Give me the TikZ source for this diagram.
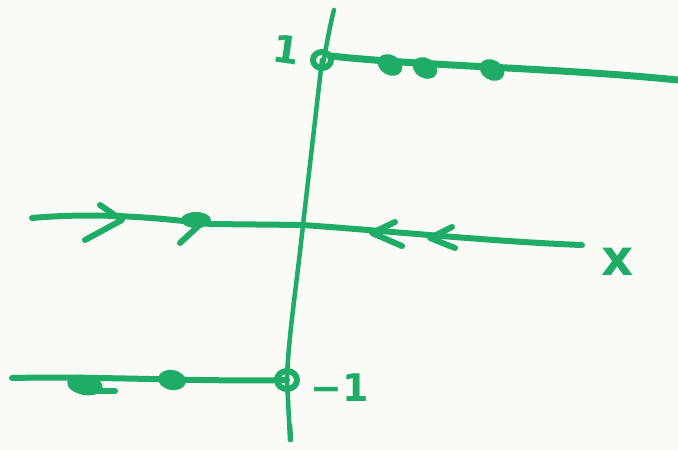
\documentclass[tikz,border=0pt]{standalone}
\usepackage{fontspec}
\setmainfont{DejaVu Sans}
\definecolor{pen}{RGB}{30,172,102}
\definecolor{paper}{RGB}{250,250,247}
\begin{document}
\begin{tikzpicture}[x=1pt,y=-1pt,
  ink/.style={draw=pen,line width=6pt,line cap=round,line join=round},
  lbl/.style={text=pen,font=\bfseries\fontsize{38}{38}\selectfont,inner sep=0pt}]
\fill[paper] (0,0) rectangle (678,451);
\useasboundingbox (0,0) rectangle (678,451);
% named points
\coordinate (vtop) at (334,10);
\coordinate (p1) at (322,60);
\coordinate (o) at (303,225);
\coordinate (m1) at (287,380);
\coordinate (vbot) at (290,440);
% vertical axis
\draw[ink,line width=4.5pt] (vtop) .. controls (326,40) and (320,90) .. (p1) -- (o) .. controls (296,290) and (288,340) .. (m1) -- (vbot);
% circles
\draw[ink] (p1) circle[x radius=9,y radius=8];
\draw[ink] (m1) circle[x radius=10,y radius=9];
% top line
\coordinate (tr) at (678,80);
\draw[ink,line width=7pt] (331,56) .. controls (420,66) and (560,68) .. (tr);
\foreach \x/\y in {390/65,425/68,492/70}
  \fill[pen,rotate around={-30:(\x,\y)}] (\x,\y) ellipse[x radius=13,y radius=10];
% middle line
\coordinate (ml) at (32,218);
\coordinate (mr) at (582,245);
\draw[ink] (ml) .. controls (100,212) and (160,218) .. (210,224) -- (o) .. controls (400,232) and (500,242) .. (mr);
% arrowheads
\draw[ink] (100,205) -- (122,220) -- (85,240);
\draw[ink] (205,220) -- (180,243);
\fill[pen] (196,220) ellipse[x radius=15,y radius=8];
\draw[ink] (395,222) -- (372,233) -- (402,246);
\draw[ink] (452,227) -- (430,238) -- (455,248);
% x label
\node[lbl,font=\bfseries\fontsize{50}{50}\selectfont] (xl) at (618,262) {x};
% bottom line
\coordinate (bl) at (12,378);
\draw[ink] (bl) .. controls (100,376) and (200,382) .. (m1);
\fill[pen,rotate around={-10:(85,385)}] (85,385) ellipse[x radius=18,y radius=10];
\draw[ink] (85,391) -- (115,391);
\fill[pen,rotate around={-10:(172,380)}] (172,380) ellipse[x radius=14,y radius=10];
% labels
\node[lbl,rotate=-8] (one) at (287,50) {1};
\node[lbl] (mone) at (340,388) {−1};
\draw[ink,line width=4.5pt] (290,425) -- (291,440);
\end{tikzpicture}
\end{document}
